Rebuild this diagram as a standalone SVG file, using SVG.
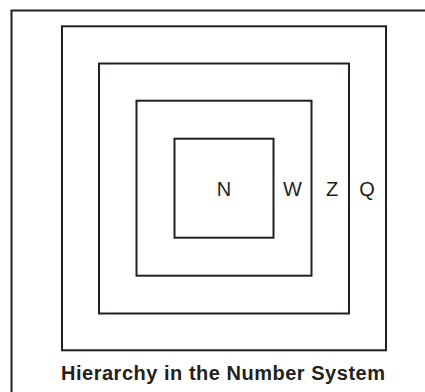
<svg xmlns="http://www.w3.org/2000/svg" width="425" height="392" viewBox="0 0 425 392">
  <style>
    .box { fill: none; stroke: #231f20; stroke-width: 2; }
    .lbl { font-family: "Liberation Sans", Arial, sans-serif; font-size: 20px; fill: #231f20; text-anchor: middle; }
    .title { font-family: "Liberation Sans", Arial, sans-serif; font-size: 20px; font-weight: bold; fill: #231f20; text-anchor: middle; }
  </style>
  <rect width="425" height="392" fill="#ffffff"/>
  <path class="box" d="M11.5 400 V10.5 H440"/>
  <g id="node-Q">
    <rect class="box" x="62" y="26.3" width="324" height="324"/>
    <text class="lbl" x="367" y="196">Q</text>
  </g>
  <g id="node-Z">
    <rect class="box" x="99" y="63.5" width="250" height="250"/>
    <text class="lbl" x="332" y="196">Z</text>
  </g>
  <g id="node-W">
    <rect class="box" x="136.5" y="100.7" width="175" height="175"/>
    <text class="lbl" x="292.5" y="196">W</text>
  </g>
  <g id="node-N">
    <rect class="box" x="174.5" y="138.7" width="99" height="99"/>
    <text class="lbl" x="224" y="196">N</text>
  </g>
  <g id="connectors"></g>
  <text class="title" x="223" y="380" textLength="324" lengthAdjust="spacing">Hierarchy in the Number System</text>
</svg>
